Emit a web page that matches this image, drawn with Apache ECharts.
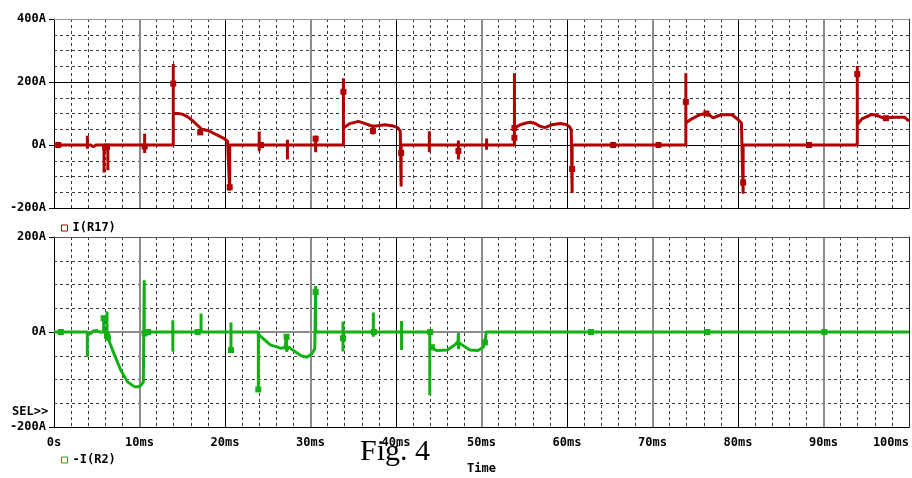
<!DOCTYPE html>
<html>
<head>
<meta charset="utf-8">
<script src="https://cdn.jsdelivr.net/npm/echarts@6/dist/echarts.min.js"></script>
<style>
html,body{margin:0;padding:0;background:#fff;}
#chart{width:912px;height:478px;}
</style>
</head>
<body>
<div id="chart"></div>
<script>
// ---- data (time in ms, current in A) ----
var r17Trace = [
  [0,0],
  [3.9,0],[3.9,29],[3.9,-12],[3.9,0],
  [4.3,0],[4.6,-6],[4.9,0],
  [5.85,0],[5.85,-87],[5.85,0],
  [6.3,0],[6.3,-80],[6.3,0],
  [10.6,0],[10.6,36],[10.6,-25],[10.6,0],
  [13.95,0],[13.95,257],[13.95,100],
  [14.5,100],[15.0,98],[15.6,90],[16.3,75],[16.8,62],[17.3,50],[18.0,46],[19.0,33],[19.8,22],[20.3,12],[20.5,6],
  [20.55,-145],[20.55,0],
  [24.0,0],[24.0,43],[24.0,-20],[24.0,0],
  [27.3,0],[27.3,17],[27.3,-46],[27.3,0],
  [30.6,0],[30.6,29],[30.6,-23],[30.6,0],
  [33.85,0],[33.85,212],[33.85,54],
  [34.6,68],[35.6,75],[36.4,68],[37.0,62],[37.3,60],[37.3,33],[37.3,60],[37.7,60],[38.7,64],[39.7,60],[40.2,55],[40.5,44],
  [40.6,-132],[40.6,0],
  [43.9,0],[43.9,44],[43.9,-23],[43.9,0],
  [47.3,0],[47.3,14],[47.3,-46],[47.3,0],
  [50.6,0],[50.6,21],[50.6,-15],[50.6,0],
  [53.85,0],[53.85,228],[53.85,54],
  [54.5,64],[55.2,70],[55.7,72],[56.3,68],[56.8,60],[57.4,55],[58.2,64],[59.2,68],[59.9,65],[60.3,58],[60.5,47],
  [60.6,-152],[60.6,0],
  [73.9,0],[73.9,228],[73.9,70],
  [74.6,83],[75.6,97],[76.3,100],[76.8,92],[77.1,86],[77.6,92],[78.1,96],[79.3,96],[80.0,81],[80.4,70],[80.5,65],
  [80.6,-155],[80.6,0],
  [93.95,0],[93.95,251],[93.95,65],
  [94.5,83],[95.2,92],[95.6,97],[96.0,96],[96.4,92],[97.2,84],[97.8,87],[98.4,88],[99.5,88],[100,76]
];
var r17Markers = [
  [0.5,0],[6.0,-8],[6.2,-5],[10.6,-5],[13.95,195],[17.1,40],[20.55,-134],[24.2,0],[30.6,20],
  [33.85,169],[37.3,45],[40.6,-25],[47.3,-19],[53.85,54],[53.85,23],[60.6,-76],[65.4,0],[70.7,0],
  [73.9,137],[76.3,100],[80.6,-119],[88.3,0],[93.95,225],[97.3,85]
];
var r2Trace = [
  [0,0],
  [3.9,0],[3.9,-53],[3.9,-6],
  [4.3,-3],[4.6,2],[5.0,3],[5.3,0],
  [5.8,0],[5.8,29],[5.8,0],
  [6.2,0],[6.2,43],[6.2,-8],
  [6.4,-17],[7.0,-45],[7.8,-80],[8.6,-105],[9.4,-115],[9.9,-115],[10.2,-112],[10.45,-105],
  [10.55,-105],[10.55,109],[10.55,0],
  [13.9,0],[13.9,25],[13.9,-41],[13.9,0],
  [17.2,0],[17.2,39],[17.2,0],
  [20.7,0],[20.7,20],[20.7,-38],[20.7,0],
  [23.9,0],[23.9,-126],[23.9,-5],
  [24.4,-13],[25.3,-27],[26.5,-34],[27.0,-33],
  [27.2,-32],[27.2,-10],[27.2,-41],[27.4,-31],
  [27.7,-35],[28.9,-50],[29.6,-53],[30.2,-45],[30.5,-35],
  [30.6,-35],[30.6,97],[30.6,0],
  [33.8,0],[33.8,22],[33.8,-41],[33.8,0],
  [37.35,0],[37.35,41],[37.35,-10],[37.35,0],
  [40.65,0],[40.65,23],[40.65,-38],[40.65,0],
  [43.95,0],[43.95,-133],[43.95,-32],
  [44.8,-39],[46.0,-38],[46.9,-27],[47.25,-20],[47.3,-2],[47.3,-36],[47.35,-22],
  [47.7,-27],[48.65,-38],[49.6,-39],[50.2,-32],[50.4,-22],[50.5,-20],[50.55,0],
  [100,0]
];
var r2Markers = [
  [0.8,0],[5.8,29],[6.2,-8],[6.3,-12],[10.6,-3],[11.0,0],[16.8,0],[20.7,-38],[23.9,-121],
  [27.2,-10],[30.6,84],[33.8,-13],[37.4,0],[44.0,0],[44.2,-32],[50.4,-22],[62.8,0],[76.4,0],[90.1,0]
];
var topRange = [-200, 400];
var bottomRange = [-200, 200];
var timeRange = [0, 100];

// ---- styling ----
var RED = '#b00000', GREEN = '#12b012';
var MONO = {fontFamily:'DejaVu Sans Mono', fontWeight:'bold', fontSize:12, color:'#000'};
function ampLabel(v){ return v + 'A'; }
function timeLabel(v){ return v === 0 ? '0s' : v + 'ms'; }
var dash = {color:'#3a3a3a', width:1, type:[3,3]};

function xAxes(g, withLabels){
  return [
    {gridIndex:g, type:'value', min:timeRange[0], max:timeRange[1], interval:2,
     axisLine:{show:false}, axisTick:{show:false}, axisLabel:{show:false},
     splitLine:{show:true, lineStyle:dash}},
    {gridIndex:g, type:'value', min:timeRange[0], max:timeRange[1], interval:10,
     axisLine:{show:false}, axisTick:{show:false}, axisLabel:{show:false},
     splitLine:{show:true, showMinLine:true, lineStyle:{color:['rgba(0,0,0,0)','#8c8c8c'], width:2}}},
    {gridIndex:g, type:'value', min:timeRange[0], max:timeRange[1], interval:20,
     axisLine:{show:false}, axisTick:{show:false}, axisLabel:{show:false},
     splitLine:{show:true, lineStyle:{color:'#000', width:1}}},
    {gridIndex:g, type:'value', min:timeRange[0], max:timeRange[1], interval:10, position:'bottom',
     axisLine:{show:true, onZero:false, lineStyle:{color:'#000', width:1}}, axisTick:{show:false},
     axisLabel:{show:withLabels, formatter:timeLabel, margin:10, alignMaxLabel:'right', textStyle:MONO},
     name: withLabels ? 'Time' : '', nameLocation:'middle', nameGap:36,
     nameTextStyle:MONO, splitLine:{show:false}},
    {gridIndex:g, type:'value', min:timeRange[0], max:timeRange[1], position:'top',
     axisLine:{show:true, onZero:false, lineStyle:{color: g===0 ? '#999' : '#555', width:1}}, axisTick:{show:false},
     axisLabel:{show:false}, splitLine:{show:false}}
  ];
}
function yAxes(g, range, zeroColor){
  return [
    {gridIndex:g, type:'value', min:range[0], max:range[1], interval:50,
     axisLine:{show:false}, axisTick:{show:false}, axisLabel:{show:false},
     splitLine:{show:true, lineStyle:dash}},
    {gridIndex:g, type:'value', min:range[0], max:range[1], interval:200, position:'left',
     axisLine:{show:true, onZero:false, lineStyle:{color:'#000', width:1}},
     axisTick:{show:true, length:5, lineStyle:{color:'#000'}},
     axisLabel:{show:true, formatter:ampLabel, margin:8, textStyle:MONO},
     splitLine:{show:true, lineStyle:{color:zeroColor, width: g===0 ? 1 : 2}}},
    {gridIndex:g, type:'value', min:range[0], max:range[1], position:'right',
     axisLine:{show:true, onZero:false, lineStyle:{color:'#222', width:1}}, axisTick:{show:false},
     axisLabel:{show:false}, splitLine:{show:false}}
  ];
}

var option = {
  animation:false,
  backgroundColor:'#fff',
  grid:[
    {left:54, top:19, width:855, height:189},
    {left:54, top:237, width:855, height:190}
  ],
  xAxis: xAxes(0,false).concat(xAxes(1,true)),
  yAxis: yAxes(0, topRange, '#000').concat(yAxes(1, bottomRange, ['rgba(0,0,0,0)','#8c8c8c'])),
  legend:[
    {data:[{name:'I(R17)', itemStyle:{color:'#fff', borderColor:RED, borderWidth:1}}],
     left:56, top:217, icon:'rect', itemWidth:6, itemHeight:6, textStyle:MONO, selectedMode:false},
    {data:[{name:'-I(R2)', itemStyle:{color:'#fff', borderColor:GREEN, borderWidth:1}}],
     left:56, top:449, icon:'rect', itemWidth:6, itemHeight:6, textStyle:MONO, selectedMode:false}
  ],
  series:[
    {name:'I(R17)', type:'line', xAxisIndex:1, yAxisIndex:1, data:r17Trace, showSymbol:false, symbol:'none',
     lineStyle:{color:RED, width:3}, itemStyle:{color:RED}, z:5},
    {name:'I(R17) mk', type:'scatter', xAxisIndex:1, yAxisIndex:1, data:r17Markers, symbol:'rect', symbolSize:6,
     itemStyle:{color:RED, opacity:1}, z:6},
    {name:'-I(R2)', type:'line', xAxisIndex:6, yAxisIndex:4, data:r2Trace, showSymbol:false, symbol:'none',
     lineStyle:{color:GREEN, width:3}, itemStyle:{color:GREEN}, z:5},
    {name:'-I(R2) mk', type:'scatter', xAxisIndex:6, yAxisIndex:4, data:r2Markers, symbol:'rect', symbolSize:6,
     itemStyle:{color:GREEN, opacity:1}, z:6}
  ],
  graphic:[
    {type:'text', left:12, top:406, style:{text:'SEL>>', font:'bold 12px "DejaVu Sans Mono"', fill:'#000'}},
    {type:'text', x:360, y:437, style:{text:'Fig. 4', font:'30px "Liberation Serif"', fill:'#000', textVerticalAlign:'alphabetic'}, z:20}
  ]
};
var chart = echarts.init(document.getElementById('chart'), null, {renderer:'canvas'});
chart.setOption(option);
</script>
</body>
</html>
